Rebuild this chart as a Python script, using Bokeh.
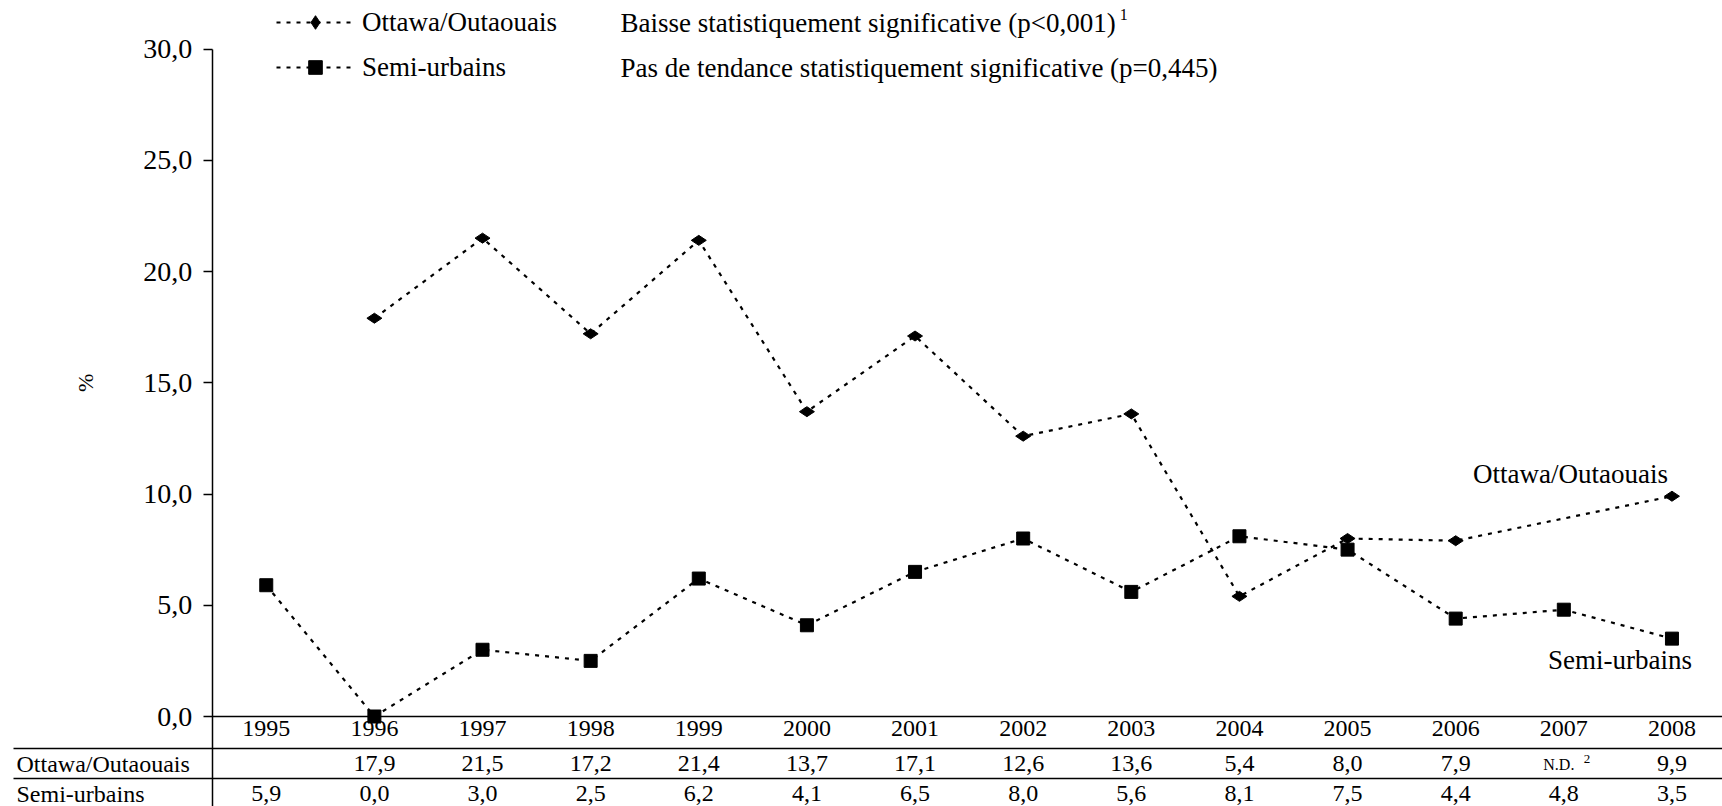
import math
from bokeh.plotting import figure
from bokeh.models import Range1d, LinearAxis, FixedTicker, Legend, LegendItem
from bokeh.core.properties import value
from bokeh.embed import file_html
from bokeh.resources import INLINE

# ---------------- data ----------------
years = [1995, 1996, 1997, 1998, 1999, 2000, 2001, 2002, 2003, 2004, 2005, 2006, 2007, 2008]
ottawa = [None, 17.9, 21.5, 17.2, 21.4, 13.7, 17.1, 12.6, 13.6, 5.4, 8.0, 7.9, None, 9.9]
semi = [5.9, 0.0, 3.0, 2.5, 6.2, 4.1, 6.5, 8.0, 5.6, 8.1, 7.5, 4.4, 4.8, 3.5]
ottawa_nd_years = [2007]
series_names = ["Ottawa/Outaouais", "Semi-urbains"]
trend_texts = ["Baisse statistiquement significative (p<0,001)",
               "Pas de tendance statistiquement significative (p=0,445)"]
trend_notes = ["1", ""]
nd_label = "N.D."
nd_note = "2"
y_ticks = [0, 5, 10, 15, 20, 25, 30]
y_tick_labels = ["0,0", "5,0", "10,0", "15,0", "20,0", "25,0", "30,0"]
y_axis_label = "%"


def fr(v):
    return f"{v:.1f}".replace(".", ",")


# ---------------- layout helpers (canvas pixels -> data) ----------------
W, H = 1722, 806
AXIS_PX = 211.7           # x of the y axis
X_AXIS = years[0] - 0.5   # data x of the y axis
PX_PER_YEAR = 108.13
ZERO_PY = 716.0           # y of value 0
PX_PER_UNIT = 22.25


def xp(px):
    return X_AXIS + (px - AXIS_PX) / PX_PER_YEAR


def yp(py):
    return (ZERO_PY - py) / PX_PER_UNIT


x0, x1 = xp(0), xp(W)
y0, y1 = yp(H), yp(0)

FONT = "Liberation Serif"
FS_LEG = 27
DASH = "4 6"
LW = 2.2

p = figure(width=W, height=H, x_range=Range1d(x0, x1), y_range=Range1d(y0, y1),
           output_backend="svg", toolbar_location=None,
           x_axis_location=None, y_axis_location=None, min_border=0)
p.outline_line_color = None
p.xgrid.visible = False
p.ygrid.visible = False

# ---------------- axes ----------------
yaxis = LinearAxis(fixed_location=X_AXIS, bounds=(y0, max(y_ticks)),
                   ticker=FixedTicker(ticks=y_ticks),
                   major_label_overrides={t: l for t, l in zip(y_ticks, y_tick_labels)},
                   major_tick_out=9, major_tick_in=0, minor_tick_out=0, minor_tick_in=0,
                   major_label_standoff=11,
                   major_label_text_font=FONT, major_label_text_font_size="28px",
                   major_label_text_color="black",
                   axis_line_width=1.5, axis_line_color="black",
                   major_tick_line_width=1.5, major_tick_line_color="black")
p.add_layout(yaxis, "left")

xaxis = LinearAxis(fixed_location=0, bounds=(X_AXIS, x1),
                   ticker=FixedTicker(ticks=years),
                   major_label_overrides={y: str(y) for y in years},
                   major_tick_out=0, major_tick_in=0, minor_tick_out=0, minor_tick_in=0,
                   major_label_standoff=4,
                   major_label_text_font=FONT, major_label_text_font_size="24px",
                   major_label_text_color="black",
                   axis_line_width=1.5, axis_line_color="black")
p.add_layout(xaxis, "below")

# ---------------- series ----------------
xo = [yr for yr, v in zip(years, ottawa) if v is not None]
vo = [v for v in ottawa if v is not None]

r_o_line = p.line(xo, vo, line_color="black", line_width=LW, line_dash=DASH)
r_s_line = p.line(years, semi, line_color="black", line_width=LW, line_dash=DASH)
r_o_pts = p.scatter(xo, vo, marker="diamond", angle=math.pi / 2, size=15,
                    fill_color="black", line_color="black")
r_s_pts = p.scatter(years, semi, marker="square", size=13,
                    fill_color="black", line_color="black")

# ---------------- legend ----------------
GH, SP = 34, 11
legend = Legend(items=[LegendItem(label=series_names[0], renderers=[r_o_line, r_o_pts]),
                       LegendItem(label=series_names[1], renderers=[r_s_line, r_s_pts])],
                location=(276, H - 5 - (2 * GH + SP)), orientation="vertical",
                border_line_color=None, background_fill_alpha=0,
                padding=0, margin=0, spacing=SP,
                glyph_width=78, glyph_height=GH, label_height=GH, label_standoff=8,
                label_text_font=FONT, label_text_font_size=f"{FS_LEG}px", label_text_color="black")
p.add_layout(legend)

tx = xp(620)
ty = [yp(22.5), yp(67.5)]
p.text(x=[tx, tx], y=ty, text=trend_texts, text_font=value(FONT),
       text_font_size=f"{FS_LEG}px", text_align="left", text_baseline="middle", text_color="black")
# superscript note placed just after the first trend text (estimated Times text width: 18.34 em)
p.text(x=[xp(620 + 18.34 * FS_LEG + 4)], y=[yp(14)], text=[trend_notes[0]], text_font=value(FONT),
       text_font_size="16px", text_align="left", text_baseline="middle", text_color="black")

# ---------------- inline series labels ----------------
p.text(x=[xo[-1]], y=[vo[-1] + 1.0], text=[series_names[0]], text_font=value(FONT),
       text_font_size=f"{FS_LEG}px", text_align="right", text_baseline="middle", text_color="black",
       x_offset=-4)
p.text(x=[years[-1]], y=[semi[-1] - 0.95], text=[series_names[1]], text_font=value(FONT),
       text_font_size=f"{FS_LEG}px", text_align="right", text_baseline="middle", text_color="black",
       x_offset=20)

# y axis title
p.text(x=[xp(85)], y=[15], text=[y_axis_label], text_font=value(FONT), text_font_size="22px",
       angle=math.pi / 2, text_align="center", text_baseline="middle", text_color="black")

# ---------------- data table below the chart ----------------
row_line_1 = yp(748)
row_ott = yp(763)
row_line_2 = yp(778)
row_semi = yp(793)

p.segment(x0=[xp(13), xp(13)], y0=[row_line_1, row_line_2],
          x1=[x1, x1], y1=[row_line_1, row_line_2], line_color="black", line_width=1.5)

label_x = xp(16)
p.text(x=[label_x, label_x], y=[row_ott, row_semi], text=series_names, text_font=value(FONT),
       text_font_size="24px", text_align="left", text_baseline="middle", text_color="black")

ott_txt_x = [yr for yr, v in zip(years, ottawa) if v is not None]
ott_txt = [fr(v) for v in ottawa if v is not None]
p.text(x=ott_txt_x, y=[row_ott] * len(ott_txt_x), text=ott_txt, text_font=value(FONT),
       text_font_size="24px", text_align="center", text_baseline="middle", text_color="black")
p.text(x=ottawa_nd_years, y=[row_ott] * len(ottawa_nd_years), text=[nd_label] * len(ottawa_nd_years),
       text_font=value(FONT), text_font_size="16px", text_align="center",
       text_baseline="middle", text_color="black", x_offset=-5, y_offset=1)
p.text(x=ottawa_nd_years, y=[row_ott] * len(ottawa_nd_years), text=[nd_note] * len(ottawa_nd_years),
       text_font=value(FONT), text_font_size="13px", text_align="left",
       text_baseline="middle", text_color="black", x_offset=20, y_offset=-5)

p.text(x=years, y=[row_semi] * len(years), text=[fr(v) for v in semi], text_font=value(FONT),
       text_font_size="24px", text_align="center", text_baseline="middle", text_color="black")

open("out.html", "w").write(file_html(p, INLINE))
